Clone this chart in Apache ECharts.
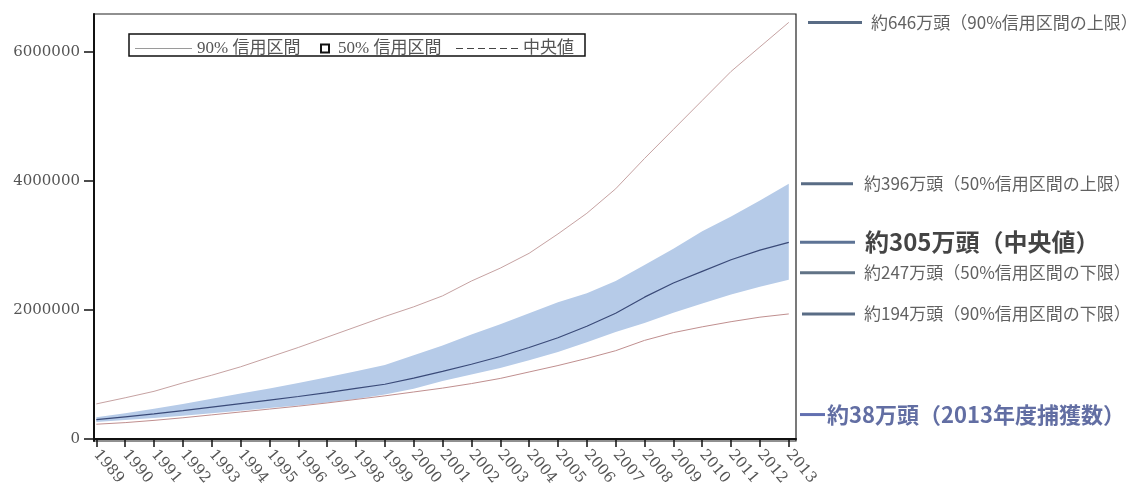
<!DOCTYPE html>
<html>
<head>
<meta charset="utf-8">
<script src="https://cdn.jsdelivr.net/npm/echarts@6/dist/echarts.min.js"></script>
<style>
  html, body { margin: 0; padding: 0; background: #ffffff; }
  #chart-container { width: 1140px; height: 494px; }
</style>
</head>
<body>
<div id="chart-container"></div>
<script>
const years = [1989, 1990, 1991, 1992, 1993, 1994, 1995, 1996, 1997, 1998, 1999, 2000, 2001,
    2002, 2003, 2004, 2005, 2006, 2007, 2008, 2009, 2010, 2011, 2012, 2013];

const median = [300000, 345000, 390000, 440000, 495000, 550000, 605000, 660000, 720000, 785000,
    850000, 945000, 1050000, 1160000, 1280000, 1420000, 1570000, 1750000, 1950000, 2200000,
    2420000, 2600000, 2780000, 2930000, 3050000];

const upper50 = [340000, 400000, 470000, 545000, 625000, 705000, 785000, 870000, 960000, 1050000,
    1150000, 1300000, 1450000, 1620000, 1780000, 1950000, 2120000, 2260000, 2450000, 2700000,
    2950000, 3220000, 3450000, 3700000, 3960000];

const lower50 = [265000, 295000, 325000, 360000, 400000, 440000, 480000, 520000, 565000, 620000,
    690000, 780000, 900000, 1000000, 1100000, 1220000, 1350000, 1500000, 1660000, 1800000,
    1960000, 2100000, 2240000, 2360000, 2470000];

const upper90 = [545000, 640000, 740000, 870000, 990000, 1120000, 1270000, 1420000, 1580000, 1740000,
    1900000, 2050000, 2220000, 2450000, 2650000, 2880000, 3180000, 3500000, 3880000, 4350000,
    4800000, 5250000, 5700000, 6080000, 6460000];

const lower90 = [230000, 255000, 290000, 330000, 375000, 420000, 465000, 510000, 560000, 615000,
    670000, 730000, 790000, 860000, 940000, 1040000, 1140000, 1250000, 1370000, 1530000,
    1650000, 1740000, 1820000, 1890000, 1940000];

const yTicks = [0, 2000000, 4000000, 6000000];

const noteValues = [6460000, 3960000, 3050000, 2470000, 1940000, 380000];
const noteTexts = [
    '約646万頭（90%信用区間の上限）',
    '約396万頭（50%信用区間の上限）',
    '約305万頭（中央値）',
    '約247万頭（50%信用区間の下限）',
    '約194万頭（90%信用区間の下限）',
    '約38万頭（2013年度捕獲数）'
];

const NAME90 = '90% 信用区間';
const NAME50 = '50% 信用区間';
const NAMEMED = '中央値';

const serif = "'DejaVu Serif', 'Liberation Serif', serif";
const legendFont = "'Liberation Serif', 'Noto Sans CJK JP', serif";
const jpFont = "'Noto Sans CJK JP', sans-serif";

const BAND_COLOR = '#b6cbe8';

const pairs = (vals) => years.map((y, i) => [y, vals[i]]);

// legend icons: tiny corner dots keep the 14px box so the mark sits centred
const DOTS = 'M0,0h0.01v0.01h-0.01z M0,13.99h0.01v0.01h-0.01z ';
const lineIcon = 'path://' + DOTS + 'M0,6.5h57v1h-57z';
const dashIcon = 'path://' + DOTS + 'M0,6.5h7v1h-7z M11,6.5h7v1h-7z M22,6.5h7v1h-7z M33,6.5h7v1h-7z M44,6.5h7v1h-7z M55,6.5h7v1h-7z';
const boxIcon = 'path://' + DOTS + 'M0,2h10v10h-10z M2,4v6h6v-6z';

// per note: bar width, offsets, text style
const noteStyles = [
    { w: 54, dx: 8, dy: 0, gap: 9, size: 17, weight: 'normal', color: '#3a3a3a', bar: '#2f4766' },
    { w: 52, dx: 1, dy: 0, gap: 11, size: 17, weight: 'normal', color: '#3a3a3a', bar: '#2f4766' },
    { w: 55, dx: 0, dy: 0, gap: 10, size: 24, weight: 'bold', color: '#151515', bar: '#34507a' },
    { w: 55, dx: 0, dy: -7, gap: 9, size: 17, weight: 'normal', color: '#3a3a3a', bar: '#3a5068' },
    { w: 53, dx: 2, dy: 0, gap: 9, size: 17, weight: 'normal', color: '#3a3a3a', bar: '#2f4766' },
    { w: 25, dx: 0, dy: 0, gap: 2, size: 22, weight: 'bold', color: '#3b4a8c', bar: '#3b4c9c' }
];

const noteData = noteValues.map((v, i) => {
    const s = noteStyles[i];
    return {
        value: [0, v],
        symbolSize: [s.w, 3],
        symbolOffset: [s.dx + s.w / 2, s.dy],
        itemStyle: { color: s.bar },
        label: {
            show: true,
            position: 'right',
            distance: s.gap,
            formatter: noteTexts[i],
            fontFamily: jpFont,
            fontSize: s.size,
            fontWeight: s.weight,
            color: s.color
        }
    };
});

// 50% band drawn as one polygon through the axis scales
const renderBand = (params, api) => {
    if (params.dataIndex !== 0) {
        return null;
    }
    const top = years.map((y, i) => api.coord([y, upper50[i]]));
    const bottom = years.map((y, i) => api.coord([y, lower50[i]])).reverse();
    return {
        type: 'polygon',
        shape: { points: top.concat(bottom) },
        style: { fill: BAND_COLOR, stroke: null }
    };
};

const legendText = { fontFamily: legendFont, fontSize: 17, color: '#555' };
const legendBase = { top: 40, padding: 0, itemHeight: 14, itemGap: 0, symbolKeepAspect: false, textStyle: legendText };

const chartContainer = document.getElementById('chart-container');
const myChart = echarts.init(chartContainer);

const options = {
    animation: false,
    backgroundColor: '#ffffff',
    grid: [
        { left: 94, right: 344, top: 14, bottom: 53, show: true, borderColor: '#222', borderWidth: 1.2 },
        { left: 800, right: 0, top: 14, bottom: 53 }
    ],
    legend: [
        Object.assign({}, legendBase, {
            data: [{ name: NAME90, icon: lineIcon, itemStyle: { color: '#9a9a9a' } }],
            left: 135, itemWidth: 57
        }),
        Object.assign({}, legendBase, {
            data: [{ name: NAME50, icon: boxIcon, itemStyle: { color: '#111' } }],
            left: 320, itemWidth: 10,
            textStyle: Object.assign({}, legendText, { padding: [0, 0, 0, 3] })
        }),
        Object.assign({}, legendBase, {
            data: [{ name: NAMEMED, icon: dashIcon, itemStyle: { color: '#444' } }],
            left: 456, itemWidth: 62
        })
    ],
    graphic: [{
        type: 'rect',
        shape: { x: 129, y: 34, width: 456, height: 22 },
        style: { fill: null, stroke: '#111', lineWidth: 1.5 },
        silent: true
    }],
    xAxis: [
        {
            type: 'value',
            min: 1988.92,
            max: 2013.25,
            splitLine: { show: false },
            axisLine: { show: true, lineStyle: { color: '#111', width: 2 } },
            axisTick: { show: true, length: 8, customValues: years, lineStyle: { color: '#111', width: 1.5 } },
            axisLabel: {
                customValues: years,
                formatter: (v) => String(v),
                rotate: -50,
                margin: 11,
                fontFamily: serif,
                fontSize: 15,
                color: '#555'
            }
        },
        { type: 'value', gridIndex: 1, min: 0, max: 1, show: false }
    ],
    yAxis: [
        {
            type: 'value',
            min: -30000,
            max: 6590000,
            splitLine: { show: false },
            axisLine: { show: true, lineStyle: { color: '#111', width: 2 } },
            axisTick: { show: true, length: 10, customValues: yTicks, lineStyle: { color: '#111', width: 1.5 } },
            axisLabel: {
                customValues: yTicks,
                formatter: (v) => String(v),
                margin: 14,
                fontFamily: serif,
                fontSize: 15,
                color: '#555'
            }
        },
        { type: 'value', gridIndex: 1, min: -30000, max: 6590000, show: false }
    ],
    series: [
        {
            name: NAME50,
            type: 'custom',
            renderItem: renderBand,
            itemStyle: { color: BAND_COLOR },
            data: years.map((y, i) => [y, lower50[i], upper50[i]]),
            encode: { x: 0, y: [1, 2] },
            silent: true,
            z: 1
        },
        {
            name: NAME90,
            type: 'line',
            symbol: 'none',
            itemStyle: { color: '#c6a2a2' },
            lineStyle: { color: '#c6a2a2', width: 1 },
            data: pairs(upper90),
            z: 2
        },
        {
            name: NAME90,
            type: 'line',
            symbol: 'none',
            itemStyle: { color: '#c6a2a2' },
            lineStyle: { color: '#c08f8f', width: 1 },
            data: pairs(lower90),
            z: 2
        },
        {
            name: NAMEMED,
            type: 'line',
            symbol: 'none',
            itemStyle: { color: '#3a4a78' },
            lineStyle: { color: '#3a4a78', width: 1.2 },
            data: pairs(median),
            z: 3
        },
        {
            name: 'notes',
            type: 'scatter',
            xAxisIndex: 1,
            yAxisIndex: 1,
            symbol: 'rect',
            clip: false,
            silent: true,
            data: noteData
        }
    ]
};

myChart.setOption(options);

window.addEventListener('resize', function () {
    myChart.resize();
});
</script>
</body>
</html>
